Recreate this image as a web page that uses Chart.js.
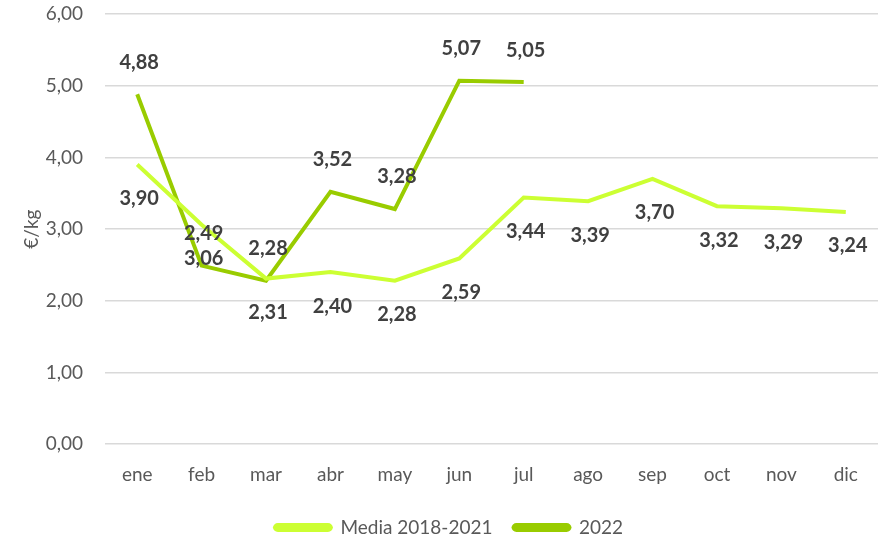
<!DOCTYPE html>
<html lang="es">
  <head>
    <meta charset="UTF-8" />
    <title>Precio €/kg</title>
    <script src="https://cdn.jsdelivr.net/npm/chart.js"></script>
    <style>
      * {
        margin: 0;
        padding: 0;
      }
      body {
        background: #fff;
      }
      .graph {
        width: 882px;
        height: 540px;
      }
    </style>
  </head>
  <body>
    <div class="graph">
      <canvas id="chartline"></canvas>
    </div>

    <script>
      /*====  DATOS ============================ */
      var meses = ['ene', 'feb', 'mar', 'abr', 'may', 'jun', 'jul', 'ago', 'sep', 'oct', 'nov', 'dic'];
      var media = [3.90, 3.06, 2.31, 2.40, 2.28, 2.59, 3.44, 3.39, 3.70, 3.32, 3.29, 3.24];
      var actual = [4.88, 2.49, 2.28, 3.52, 3.28, 5.07, 5.05];
      var series = ['Media 2018-2021', '2022'];

      var fuente = 'Lato, "Open Sans", sans-serif';
      var gris = '#595959';

      // etiquetas de valor: 2022 encima, media debajo
      var etiquetas = {
        id: 'etiquetas',
        afterDatasetsDraw: function (chart) {
          var ctx = chart.ctx;
          ctx.save();
          ctx.font = 'bold 20px ' + fuente;
          ctx.fillStyle = '#404040';
          ctx.textAlign = 'center';
          ctx.textBaseline = 'middle';
          chart.data.datasets.forEach(function (ds, i) {
            var meta = chart.getDatasetMeta(i);
            meta.data.forEach(function (pt, j) {
              var v = ds.data[j];
              if (v == null) return;
              var dy = i === 1 ? -32 : 34;
              ctx.fillText(v.toFixed(2).replace('.', ','), pt.x + 2, pt.y + dy);
            });
          });
          ctx.restore();
        }
      };

      var ctx = document.getElementById('chartline').getContext('2d');
      var myChart = new Chart(ctx, {
        type: 'line',
        data: {
          labels: meses,
          datasets: [
            {
              label: series[0],
              data: media,
              borderColor: '#ccff33',
              backgroundColor: '#ccff33',
              borderWidth: 4,
              pointRadius: 0,
              tension: 0
            },
            {
              label: series[1],
              data: actual,
              borderColor: '#99cc00',
              backgroundColor: '#99cc00',
              borderWidth: 4,
              pointRadius: 0,
              tension: 0
            }
          ]
        },
        options: {
          responsive: true,
          maintainAspectRatio: false,
          animation: false,
          layout: {
            padding: { top: 14, right: 4, left: 20, bottom: -7 }
          },
          plugins: {
            tooltip: { enabled: false },
            legend: {
              position: 'bottom',
              labels: {
                color: gris,
                font: { family: fuente, size: 19 },
                boxWidth: 56,
                boxHeight: 5,
                padding: 21,
                useBorderRadius: true,
                borderRadius: 3
              }
            }
          },
          scales: {
            x: {
              offset: true,
              grid: { display: false },
              border: { display: false },
              ticks: {
                color: gris,
                font: { family: fuente, size: 19 },
                padding: 11
              }
            },
            y: {
              min: 0,
              max: 6,
              afterFit: function (scale) {
                scale.width = 85;
                scale.paddingTop = 0;
                scale.paddingBottom = 0;
              },
              grid: { color: '#d9d9d9', lineWidth: 1.5, drawTicks: false },
              border: { display: false },
              title: {
                display: true,
                text: '€/kg',
                color: gris,
                font: { family: fuente, size: 19 },
                padding: 0
              },
              ticks: {
                stepSize: 1,
                color: gris,
                padding: 22,
                font: { family: fuente, size: 19 },
                callback: function (v) {
                  return v.toFixed(2).replace('.', ',');
                }
              }
            }
          }
        },
        plugins: [etiquetas]
      });
    </script>
  </body>
</html>
